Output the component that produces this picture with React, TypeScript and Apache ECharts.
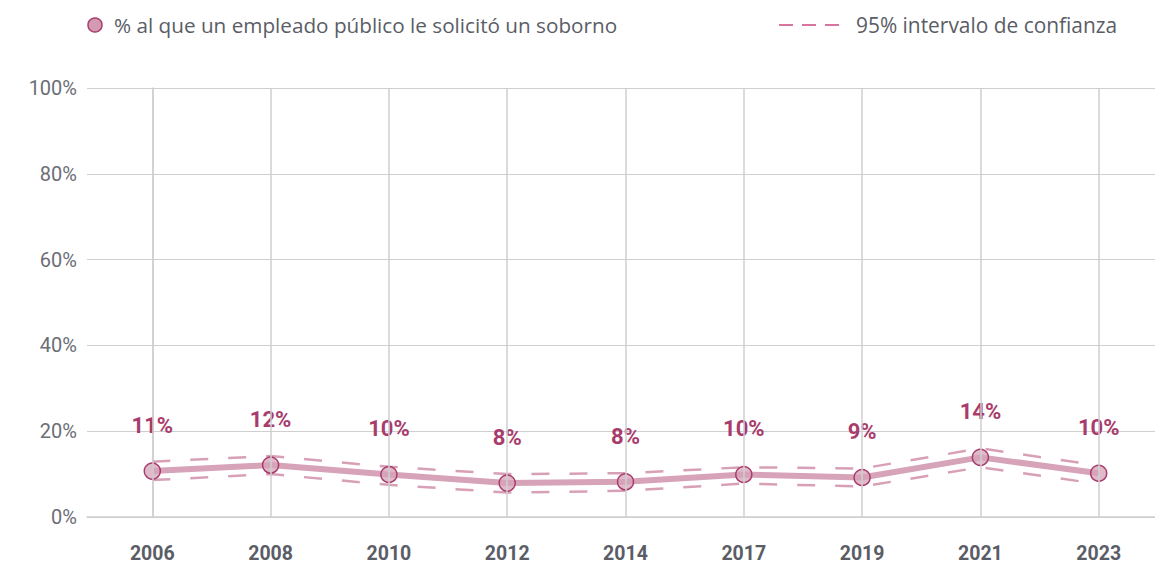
import React, { useEffect, useRef } from "react";
import * as echarts from "echarts";

const years = ["2006", "2008", "2010", "2012", "2014", "2017", "2019", "2021", "2023"];
const values = [10.7, 12.1, 9.9, 7.9, 8.2, 9.9, 9.2, 13.9, 10.2];
const upper = [12.9, 14.2, 11.7, 10.0, 10.2, 11.6, 11.3, 16.0, 12.0];
const lower = [8.6, 10.0, 7.5, 5.7, 6.1, 7.8, 7.1, 11.6, 7.7];
const yTicks = [0, 20, 40, 60, 80, 100];
const legendMain = "% al que un empleado público le solicitó un soborno";
const legendCI = "95% intervalo de confianza";

const PINK_LINE = "#d6a3b9";
const PINK_DASH = "#d8a0b7";
const MAGENTA = "#a83c6c";
const GRAY_TEXT = "#5a5d66";
const GRID = "#cfcfcf";

export default function App() {
  const ref = useRef<HTMLDivElement>(null);
  useEffect(() => {
    if (!ref.current) return;
    const chart = echarts.init(ref.current, undefined, { renderer: "svg" });
    const idx = years.map((_, i) => i);
    const option: any = {
      animation: false,
      grid: { left: 87, right: 0, top: 88, bottom: 48, containLabel: false },
      xAxis: {
        type: "value",
        min: -0.552,
        max: 8.476,
        axisLine: { show: true, lineStyle: { color: GRID, width: 1.5 } },
        axisTick: { show: false },
        splitLine: { show: false },
        axisLabel: {
          customValues: idx,
          formatter: (v: number) => years[Math.round(v)] ?? "",
          fontFamily: "Roboto",
          fontWeight: "bold",
          fontSize: 19.5,
          lineHeight: 19,
          color: GRAY_TEXT,
          margin: 27,
        },
      },
      yAxis: {
        type: "value",
        min: 0,
        max: 100,
        interval: 20,
        axisLine: { show: true, lineStyle: { color: GRID, width: 1.5 } },
        axisTick: { show: false },
        splitLine: { show: true, lineStyle: { color: GRID, width: 1 } },
        axisLabel: {
          formatter: (v: number) => (yTicks.includes(v) ? v + "%" : ""),
          fontFamily: "Roboto",
          fontSize: 20,
          color: "#6b6e75",
          margin: 10,
        },
      },
      graphic: [
        {
          type: "circle",
          shape: { cx: 95, cy: 25, r: 7 },
          style: { fill: "#d29bb3", stroke: MAGENTA, lineWidth: 1.5 },
        },
        {
          type: "text",
          x: 114,
          y: 25,
          style: {
            text: legendMain,
            fontFamily: "Open Sans",
            fontSize: 20.7,
            fill: GRAY_TEXT,
            verticalAlign: "middle",
          },
        },
        ...[0, 1, 2].map((k) => ({
          type: "line",
          shape: { x1: 779 + k * 23, y1: 25, x2: 793 + k * 23, y2: 25 },
          style: { stroke: "#c8497f", lineWidth: 1.5 },
        })),
        {
          type: "text",
          x: 856,
          y: 25,
          style: {
            text: legendCI,
            fontFamily: "Open Sans",
            fontSize: 20.9,
            fill: GRAY_TEXT,
            verticalAlign: "middle",
          },
        },
      ],
      series: [
        {
          type: "line",
          z: 1,
          data: idx.map((i) => [i, values[i]]),
          symbol: "none",
          lineStyle: { opacity: 0 },
          silent: true,
          markLine: {
            silent: true,
            symbol: ["none", "none"],
            label: { show: false },
            lineStyle: { color: GRID, type: "solid", width: 1.5 },
            data: idx.map((i) => ({ xAxis: i })),
          },
        },
        {
          type: "line",
          z: 2,
          data: idx.map((i) => [i, upper[i]]),
          symbol: "none",
          lineStyle: { color: PINK_DASH, width: 2.5, type: [18, 20] },
        },
        {
          type: "line",
          z: 2,
          data: idx.map((i) => [i, lower[i]]),
          symbol: "none",
          lineStyle: { color: PINK_DASH, width: 2.5, type: [18, 20] },
        },
        {
          type: "line",
          z: 3,
          data: idx.map((i) => [i, values[i]]),
          symbol: "circle",
          symbolSize: 16,
          lineStyle: { color: PINK_LINE, width: 6 },
          itemStyle: {
            color: "rgba(214,163,185,0.75)",
            borderColor: MAGENTA,
            borderWidth: 1.5,
          },
          label: {
            show: true,
            position: "top",
            distance: 26,
            formatter: (p: any) => Math.round(p.value[1]) + "%",
            fontFamily: "Roboto",
            fontWeight: "bold",
            fontSize: 22,
            color: MAGENTA,
          },
        },
      ],
    };
    chart.setOption(option);
    return () => chart.dispose();
  }, []);
  return (
    <div
      ref={ref}
      style={{ position: "absolute", left: 0, top: 0, width: 1155, height: 565, background: "#fff" }}
    />
  );
}
